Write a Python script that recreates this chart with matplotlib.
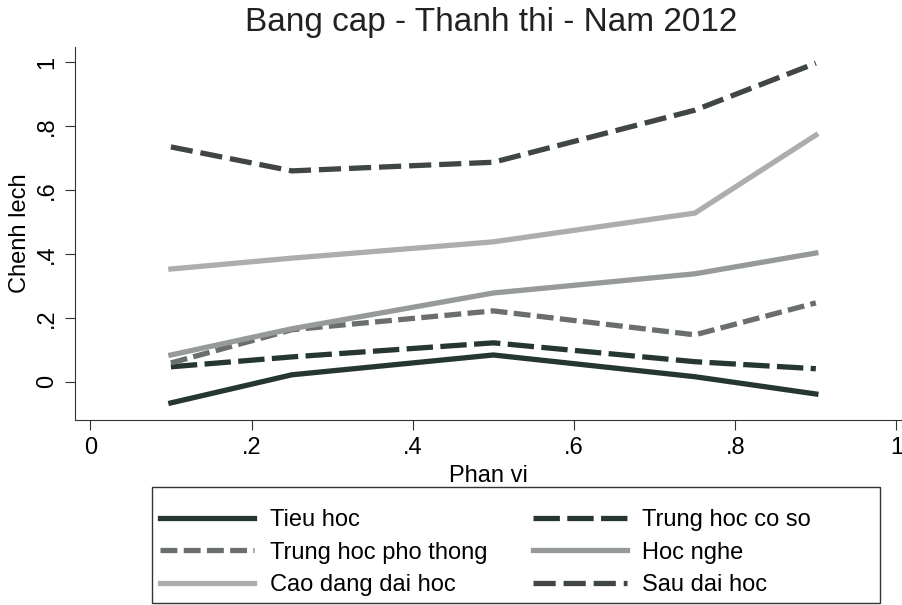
import matplotlib
matplotlib.use("Agg")
from matplotlib import pyplot as plt
from matplotlib.patches import Rectangle

plt.rcParams['font.family'] = ['Liberation Sans', 'DejaVu Sans']

# Phan vi (quantiles)
phan_vi = [0.1, 0.25, 0.5, 0.75, 0.9]

tieu_hoc = [-0.066, 0.022, 0.084, 0.016, -0.038]
trung_hoc_co_so = [0.047, 0.078, 0.122, 0.063, 0.041]
trung_hoc_pho_thong = [0.059, 0.163, 0.222, 0.147, 0.247]
hoc_nghe = [0.084, 0.166, 0.278, 0.338, 0.403]
cao_dang_dai_hoc = [0.353, 0.387, 0.438, 0.528, 0.772]
sau_dai_hoc = [0.735, 0.660, 0.687, 0.850, 0.997]

x_ticks = [0, 0.2, 0.4, 0.6, 0.8, 1]
x_labels = ["0", ".2", ".4", ".6", ".8", "1"]
y_ticks = [0, 0.2, 0.4, 0.6, 0.8, 1]
y_labels = ["0", ".2", ".4", ".6", ".8", "1"]

fig = plt.figure(figsize=(9.03, 6.05), dpi=100)
ax = fig.add_axes([0.083, 0.306, 0.916, 0.616])

lw = 3.8
l1, = ax.plot(phan_vi, tieu_hoc, color='#263632', lw=lw)
l2, = ax.plot(phan_vi, trung_hoc_co_so, color='#263632', lw=lw, dashes=(5, 1.4))
l3, = ax.plot(phan_vi, trung_hoc_pho_thong, color='#6a6e6c', lw=lw, dashes=(3.2, 1.2))
l4, = ax.plot(phan_vi, hoc_nghe, color='#969a98', lw=lw)
l5, = ax.plot(phan_vi, cao_dang_dai_hoc, color='#abaeac', lw=lw)
l6, = ax.plot(phan_vi, sau_dai_hoc, color='#3f4644', lw=lw, dashes=(4.2, 1.5))

ax.set_xlim(-0.019, 1.007)
ax.set_ylim(-0.119, 1.047)
ax.set_xticks(x_ticks)
ax.set_xticklabels(x_labels)
ax.set_yticks(y_ticks)
ax.set_yticklabels(y_labels, rotation=90, va='center')
ax.tick_params(labelsize=17, length=7, color='#333333', pad=5)
for s in ['top', 'right']:
    ax.spines[s].set_visible(False)
for s in ['left', 'bottom']:
    ax.spines[s].set_color('#333333')

ax.set_xlabel("Phan vi", fontsize=17, labelpad=5)
ax.set_ylabel("Chenh lech", fontsize=17, labelpad=4)
fig.text(0.544, 0.962, "Bang cap - Thanh thi - Nam 2012", ha='center', va='center',
         fontsize=24, color='#222222')

handles = [l1, l3, l5, l2, l4, l6]
labels = ["Tieu hoc", "Trung hoc pho thong", "Cao dang dai hoc",
          "Trung hoc co so", "Hoc nghe", "Sau dai hoc"]
leg = fig.legend(handles, labels, loc='upper left', bbox_to_anchor=(160 / 903, 1 - 509 / 605),
                 ncol=2, fontsize=17, frameon=False, borderpad=0, borderaxespad=0,
                 handlelength=4.0, labelspacing=0.45, handletextpad=0.65, columnspacing=1.92)

# legend frame as in the original (wider than the entries)
fig.patches.append(Rectangle((152 / 903, 2 / 605), 728 / 903, 116 / 605, transform=fig.transFigure,
                             fill=False, edgecolor='#333333', linewidth=1.0))

fig.savefig("out.png", dpi=100)
